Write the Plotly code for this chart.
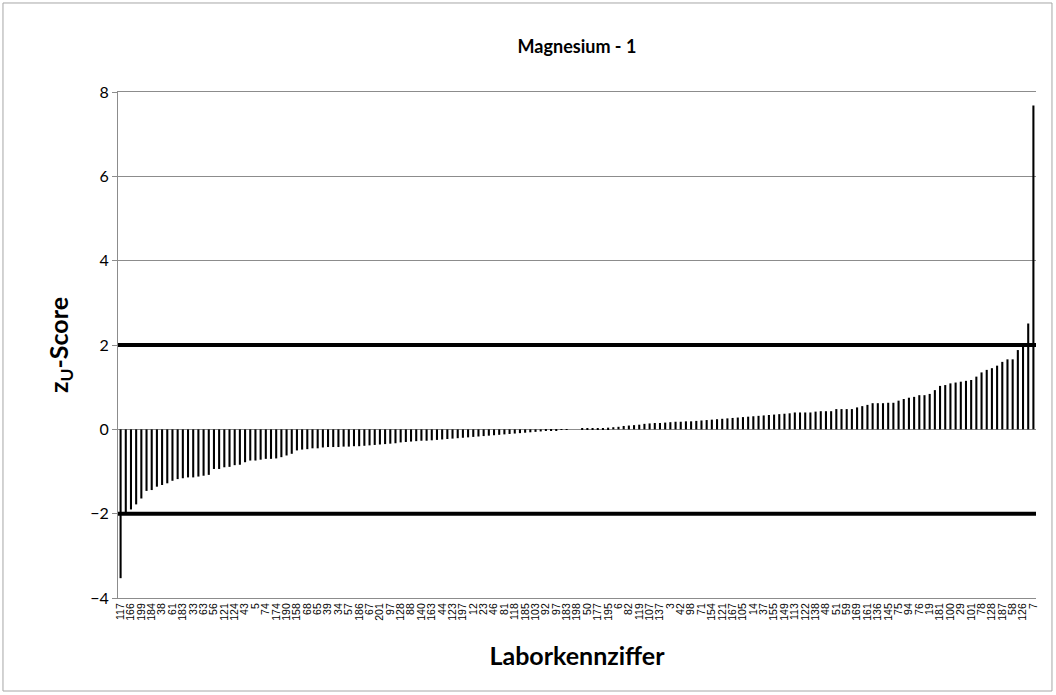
import plotly.graph_objects as go

# ---- data ----
tick_labels = [
    "117", "166", "199", "184", "38", "61", "183", "33", "63", "56",
    "121", "124", "43", "5", "74", "174", "190", "158", "68", "65",
    "39", "34", "57", "186", "67", "201", "97", "128", "88", "140",
    "163", "44", "123", "197", "12", "23", "46", "81", "118", "185",
    "103", "92", "97", "183", "198", "50", "177", "195", "6", "82",
    "119", "107", "137", "3", "42", "98", "71", "154", "121", "167",
    "105", "14", "37", "155", "149", "113", "122", "138", "48", "51",
    "59", "169", "161", "136", "145", "75", "94", "76", "19", "181",
    "100", "29", "101", "78", "128", "187", "58", "126", "7",
]

z_scores = [
    -3.53, -1.98, -1.90, -1.78, -1.64, -1.46, -1.44, -1.36, -1.32, -1.28,
    -1.22, -1.18, -1.16, -1.14, -1.14, -1.12, -1.10, -1.08, -0.94, -0.94,
    -0.90, -0.89, -0.85, -0.84, -0.78, -0.74, -0.74, -0.72, -0.70, -0.70,
    -0.69, -0.66, -0.62, -0.58, -0.50, -0.48, -0.47, -0.45, -0.45, -0.43,
    -0.42, -0.42,
    -0.42, -0.41, -0.41, -0.40, -0.40, -0.39, -0.38, -0.37, -0.36, -0.35,
    -0.34, -0.33, -0.31, -0.30, -0.29, -0.28, -0.27, -0.27, -0.26, -0.25,
    -0.24, -0.23, -0.22, -0.21, -0.20, -0.19, -0.18, -0.17, -0.16, -0.15,
    -0.14, -0.13, -0.12, -0.11, -0.10, -0.09, -0.08, -0.07, -0.06, -0.05,
    -0.04, -0.03, -0.02, -0.01, -0.01, 0.00, 0.00, 0.01, 0.01, 0.02,
    0.02, 0.03, 0.04, 0.05, 0.06, 0.08, 0.09, 0.10, 0.11, 0.13,
    0.14, 0.15, 0.15, 0.16, 0.17, 0.18, 0.18, 0.19, 0.19, 0.20,
    0.21, 0.22, 0.23, 0.24, 0.25, 0.26, 0.27, 0.28, 0.29, 0.30,
    0.31, 0.32, 0.33, 0.34, 0.35, 0.36, 0.37, 0.38,
    0.40, 0.40, 0.40, 0.40, 0.42, 0.43, 0.43, 0.43, 0.48, 0.48,
    0.48, 0.48, 0.52, 0.55, 0.58, 0.62, 0.62, 0.62, 0.63, 0.63,
    0.68, 0.72, 0.75, 0.77, 0.81, 0.81, 0.84, 0.93, 1.03, 1.05,
    1.09, 1.11, 1.13, 1.15, 1.17, 1.25, 1.35, 1.41, 1.45, 1.51,
    1.60, 1.66, 1.66, 1.88, 1.96, 2.51, 7.68,
]

limits = [2, -2]
title_text = "Magnesium - 1"
x_title = "Laborkennziffer"
y_title = "z<sub>U</sub>-Score"

# ---- figure ----
x_idx = list(range(len(z_scores)))
tick_positions = list(range(0, len(z_scores), 2))

fig = go.Figure()
fig.add_trace(go.Bar(
    x=x_idx, y=z_scores,
    marker=dict(color="black", line=dict(width=0)),
    showlegend=False,
))

GRID = "#8C8C8C"
FONT = "Lato, 'Open Sans', sans-serif"

for lim in limits:
    fig.add_shape(type="line", xref="paper", yref="y",
                  x0=0, x1=1, y0=lim, y1=lim,
                  line=dict(color="black", width=4), layer="above")

# outer chart border
fig.add_shape(type="rect", xref="paper", yref="paper",
              x0=-0.1253, x1=1.0174, y0=-0.1838, y1=1.1759,
              line=dict(color="#A6A6A6", width=1), layer="below")

fig.update_layout(
    width=1056, height=695,
    margin=dict(l=118, r=20, t=92, b=97, autoexpand=False),
    paper_bgcolor="white", plot_bgcolor="white",
    bargap=0.6,
    font=dict(family=FONT, color="black"),
    title=dict(text="<b>" + title_text + "</b>", x=0.5, xref="paper",
               xanchor="center", y=1 - 47 / 695, yref="container",
               yanchor="middle",
               font=dict(size=18, family=FONT, color="black")),
)

fig.update_xaxes(
    range=[-0.5, len(z_scores) - 0.5],
    tickmode="array", tickvals=tick_positions, ticktext=tick_labels,
    tickangle=-90, tickfont=dict(size=10.5, family="Liberation Sans, Arial, sans-serif"),
    showgrid=False, zeroline=False,
    showline=True, linecolor=GRID, linewidth=1, mirror=True,
    ticks="",
    title=dict(text="<b>" + x_title + "</b>", font=dict(size=25, family=FONT),
               standoff=27),
)

fig.update_yaxes(
    range=[-4, 8], dtick=2, tick0=0,
    showgrid=True, gridcolor=GRID, gridwidth=1,
    zeroline=True, zerolinecolor=GRID, zerolinewidth=1,
    showline=True, linecolor=GRID, linewidth=1,
    ticks="outside", ticklen=5, tickcolor=GRID,
    tickfont=dict(size=16, family=FONT),
    title=dict(text="<b>" + y_title + "</b>", font=dict(size=25, family=FONT),
               standoff=14),
)

fig.write_html("out.html", config={"displayModeBar": False},
               post_script="document.body.style.margin='0';")
